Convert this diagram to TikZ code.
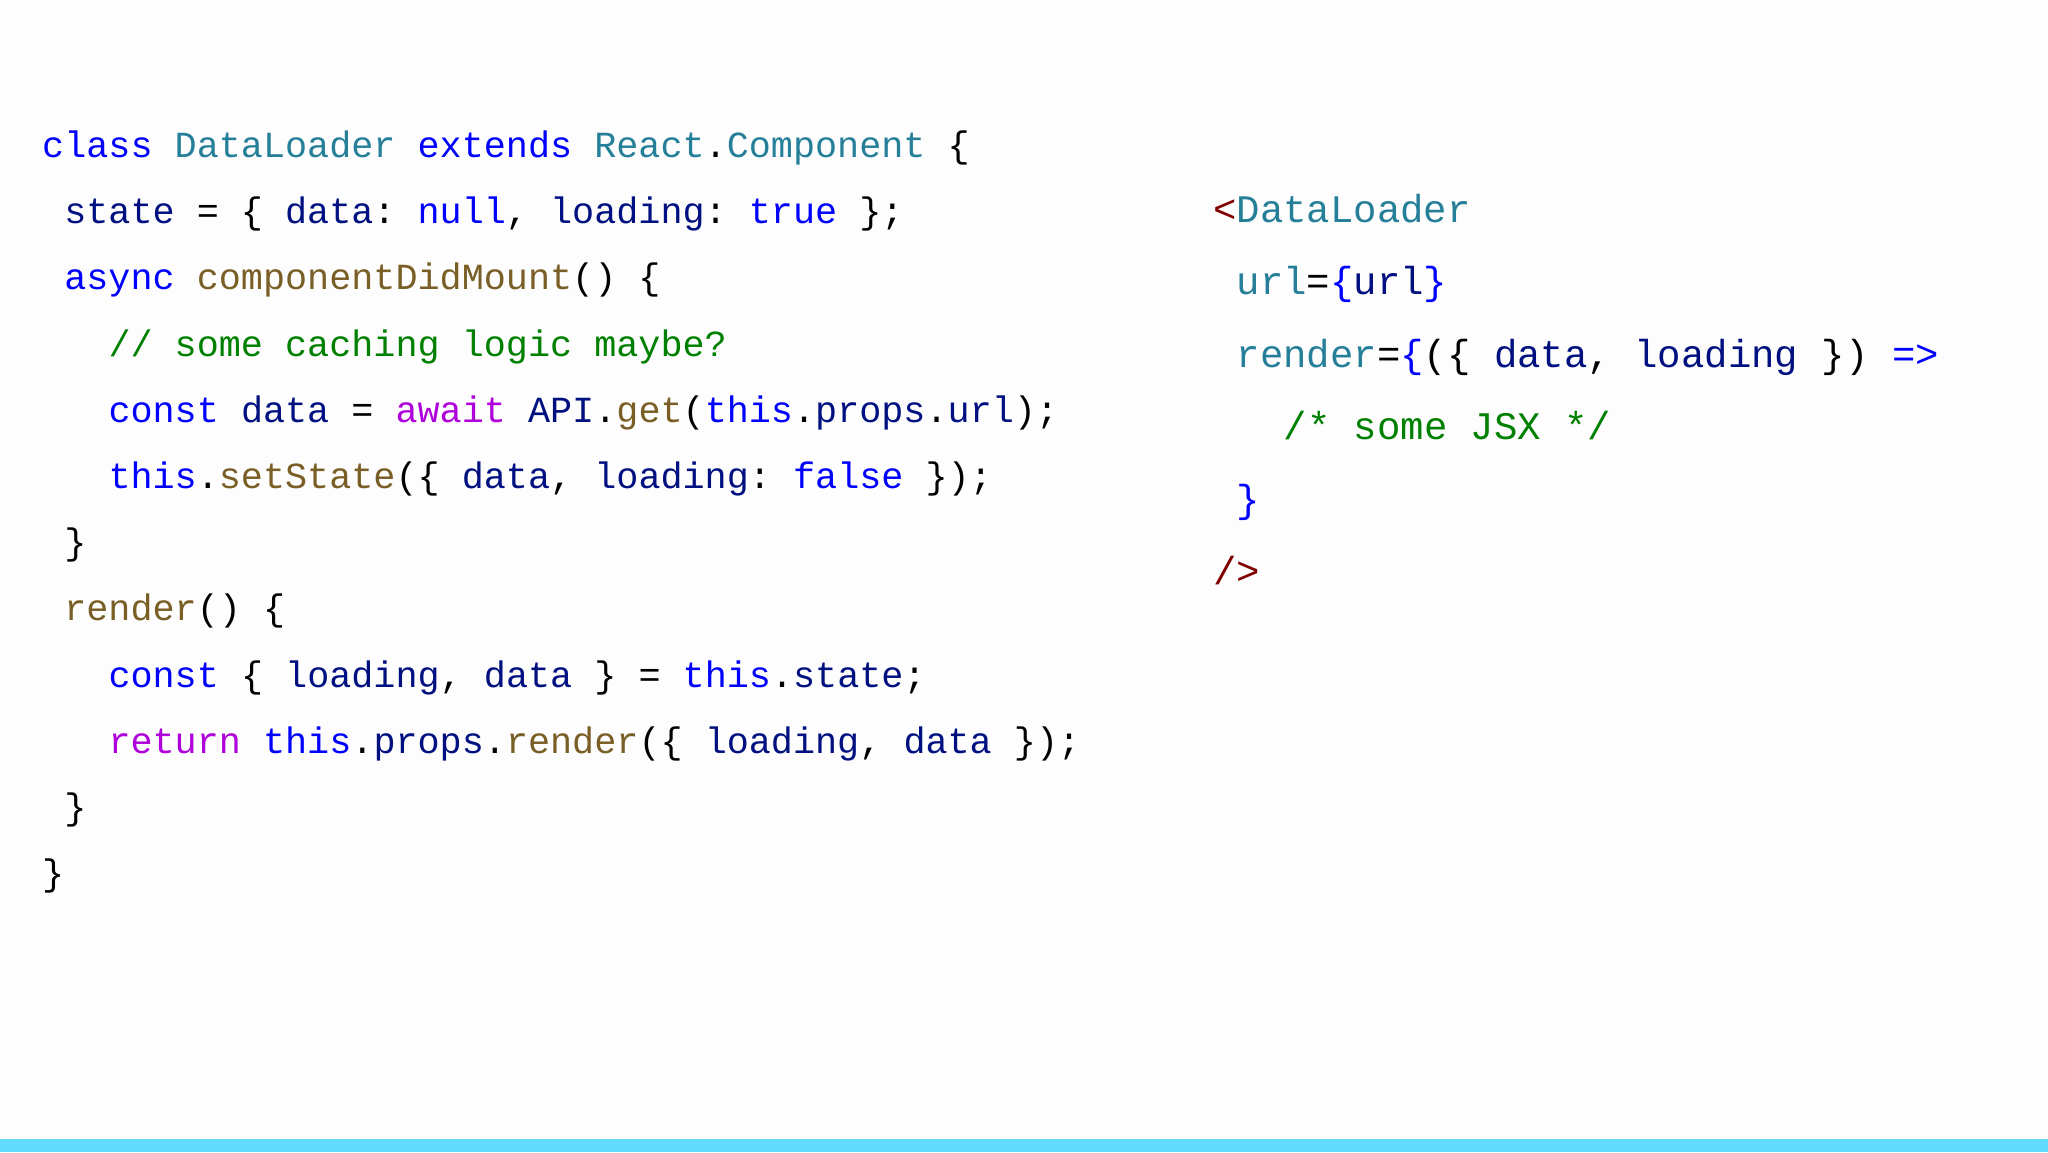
\documentclass[tikz,border=0pt]{standalone}
\usepackage{fontspec}
\setmonofont{Liberation Mono}
\definecolor{kw}{HTML}{0000FF}
\definecolor{ty}{HTML}{267F99}
\definecolor{fn}{HTML}{795E26}
\definecolor{vr}{HTML}{001080}
\definecolor{ct}{HTML}{AF00DB}
\definecolor{cm}{HTML}{008000}
\definecolor{tg}{HTML}{800000}
\definecolor{bar}{HTML}{61DAFB}
\definecolor{bg}{HTML}{FDFDFD}
\newcommand{\K}[1]{\textcolor{kw}{#1}}
\newcommand{\T}[1]{\textcolor{ty}{#1}}
\newcommand{\F}[1]{\textcolor{fn}{#1}}
\newcommand{\V}[1]{\textcolor{vr}{#1}}
\newcommand{\C}[1]{\textcolor{ct}{#1}}
\newcommand{\M}[1]{\textcolor{cm}{#1}}
\newcommand{\G}[1]{\textcolor{tg}{#1}}
\begin{document}
\begin{tikzpicture}[x=1pt,y=-1pt,
  code/.style={anchor=base west,inner sep=0pt,font=\ttfamily\fontsize{36.8}{40}\selectfont},
  jsx/.style={anchor=base west,inner sep=0pt,font=\ttfamily\fontsize{39}{42}\selectfont}]
\fill[bg] (0,0) rectangle (2048,1152);
\useasboundingbox (0,0) rectangle (2048,1152);
\fill[bar] (0,1139) rectangle (2048,1152);
\def\cw{22.1}
\node[code] (l1) at (42,157) {\K{class} \T{DataLoader} \K{extends} \T{React}.\T{Component} \{};
\node[code] (l2) at (42+\cw,223) {\V{state} = \{ \V{data}: \K{null}, \V{loading}: \K{true} \};};
\node[code] (l3) at (42+\cw,289) {\K{async} \F{componentDidMount}() \{};
\node[code] (l4) at (42+3*\cw,356) {\M{// some caching logic maybe?}};
\node[code] (l5) at (42+3*\cw,422) {\K{const} \V{data} = \C{await} \V{API}.\F{get}(\K{this}.\V{props}.\V{url});};
\node[code] (l6) at (42+3*\cw,488) {\K{this}.\F{setState}(\{ \V{data}, \V{loading}: \K{false} \});};
\node[code] (l7) at (42+\cw,554) {\}};
\node[code] (l8) at (42+\cw,620) {\F{render}() \{};
\node[code] (l9) at (42+3*\cw,687) {\K{const} \{ \V{loading}, \V{data} \} = \K{this}.\V{state};};
\node[code] (l10) at (42+3*\cw,753) {\C{return} \K{this}.\V{props}.\F{render}(\{ \V{loading}, \V{data} \});};
\node[code] (l11) at (42+\cw,819) {\}};
\node[code] (l12) at (42,885) {\}};
\def\jw{23.5}
\node[jsx] (j1) at (1213,222) {\G{<}\T{DataLoader}};
\node[jsx] (j2) at (1213+\jw,294) {\T{url}=\K{\{}\V{url}\K{\}}};
\node[jsx] (j3) at (1213+\jw,367) {\T{render}=\K{\{}(\{ \V{data}, \V{loading} \}) \K{=>}};
\node[jsx] (j4) at (1213+3*\jw,439) {\M{/* some JSX */}};
\node[jsx] (j5) at (1213+\jw,512) {\K{\}}};
\node[jsx] (j6) at (1213,584) {\G{/>}};
\end{tikzpicture}
\end{document}
